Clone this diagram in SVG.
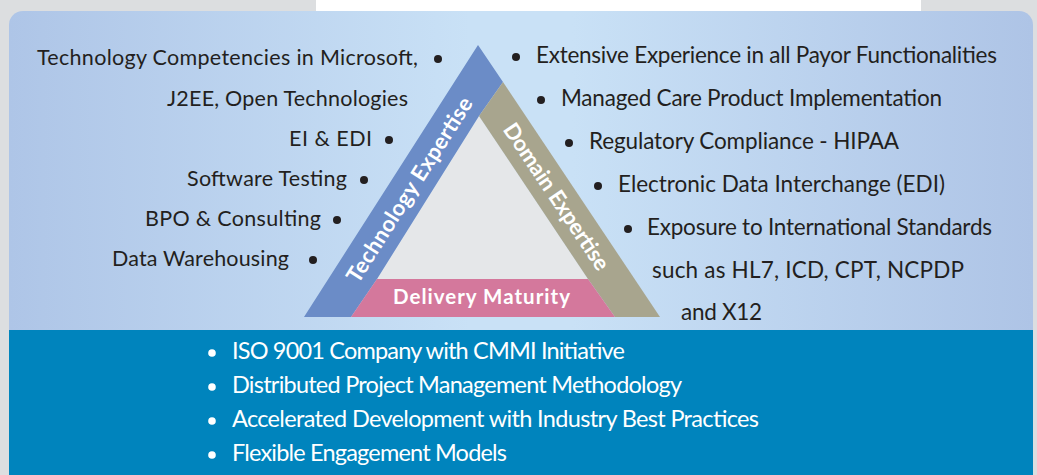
<svg xmlns="http://www.w3.org/2000/svg" width="1037" height="475" viewBox="0 0 1037 475">
<defs>
<linearGradient id="panelGrad" x1="0" y1="0" x2="1" y2="0">
<stop offset="0" stop-color="#aec5e7"/>
<stop offset="0.45" stop-color="#c9e1f6"/>
<stop offset="0.55" stop-color="#c9e1f6"/>
<stop offset="1" stop-color="#aec4e6"/>
</linearGradient>
<style>
.dk{font-family:Lato,"Liberation Sans",sans-serif;fill:#231f20;}
.wt{font-family:Lato,"Liberation Sans",sans-serif;fill:#ffffff;font-size:23.5px;}
.lbl{font-family:Lato,"Liberation Sans",sans-serif;fill:#ffffff;font-weight:bold;}
.bd{fill:#231f20;}
.bw{fill:#ffffff;}
</style>
</defs>
<rect x="0" y="0" width="1037" height="475" fill="#dcdee0"/>
<rect x="316" y="0" width="605" height="14" fill="#ffffff"/>
<g id="panel">
<rect x="9" y="11" width="1024" height="480" rx="14" ry="14" fill="url(#panelGrad)"/>
<rect x="9" y="330" width="1024" height="145" fill="#0084bd"/>
</g>
<g id="triangle">
<polygon points="479,116 588,279 377,279" fill="#e5e7e9"/>
<polygon id="tech-strip" points="478,45 503,82 479,116 377,279 351,317 304,317" fill="#6b8cc7"/>
<polygon id="domain-strip" points="503,82 660,317 615,317 588,279 479,116" fill="#a8a58e"/>
<polygon id="delivery-strip" points="377,279 588,279 615,317 351,317" fill="#d4789c"/>
<text class="lbl" font-size="22" text-anchor="middle" transform="translate(410,190) rotate(-57.5)" x="0" y="7" textLength="215" lengthAdjust="spacing">Technology Expertise</text>
<text class="lbl" font-size="22" text-anchor="middle" transform="translate(556,197) rotate(56.2)" x="0" y="7" textLength="172" lengthAdjust="spacing">Domain Expertise</text>
<text class="lbl" font-size="20.5" x="393" y="304" textLength="177" lengthAdjust="spacing">Delivery Maturity</text>
</g>
<g id="tech-list" font-size="21.5">
<text class="dk" x="37" y="65" textLength="381" lengthAdjust="spacing">Technology Competencies in Microsoft,</text>
<circle class="bd" cx="438" cy="59" r="4"/>
<text class="dk" x="167" y="106" textLength="241" lengthAdjust="spacing">J2EE, Open Technologies</text>
<text class="dk" x="289" y="146" textLength="83" lengthAdjust="spacing">EI &amp; EDI</text>
<circle class="bd" cx="389" cy="140" r="4"/>
<text class="dk" x="187" y="186" textLength="160" lengthAdjust="spacing">Software Testing</text>
<circle class="bd" cx="364" cy="180" r="4"/>
<text class="dk" x="145" y="226" textLength="176" lengthAdjust="spacing">BPO &amp; Consulting</text>
<circle class="bd" cx="337" cy="220" r="4"/>
<text class="dk" x="112" y="266" textLength="177" lengthAdjust="spacing">Data Warehousing</text>
<circle class="bd" cx="313" cy="260" r="4"/>
</g>
<g id="domain-list" font-size="22.5">
<circle class="bd" cx="516" cy="57" r="4"/>
<text class="dk" x="536" y="63" textLength="461" lengthAdjust="spacing">Extensive Experience in all Payor Functionalities</text>
<circle class="bd" cx="541" cy="100" r="4"/>
<text class="dk" x="561" y="106" textLength="381" lengthAdjust="spacing">Managed Care Product Implementation</text>
<circle class="bd" cx="569" cy="143" r="4"/>
<text class="dk" x="589" y="149" textLength="310" lengthAdjust="spacing">Regulatory Compliance - HIPAA</text>
<circle class="bd" cx="598" cy="186" r="4"/>
<text class="dk" x="618" y="192" textLength="327" lengthAdjust="spacing">Electronic Data Interchange (EDI)</text>
<circle class="bd" cx="628" cy="229" r="4"/>
<text class="dk" x="647" y="235" textLength="345" lengthAdjust="spacing">Exposure to International Standards</text>
<text class="dk" x="652" y="278" textLength="312" lengthAdjust="spacing">such as HL7, ICD, CPT, NCPDP</text>
<text class="dk" x="681" y="320" textLength="81" lengthAdjust="spacing">and X12</text>
</g>
<g id="delivery-list">
<circle class="bw" cx="212" cy="353" r="3.8"/>
<text class="wt" x="232" y="359" textLength="393" lengthAdjust="spacing">ISO 9001 Company with CMMI Initiative</text>
<circle class="bw" cx="212" cy="387" r="3.8"/>
<text class="wt" x="232" y="393" textLength="450" lengthAdjust="spacing">Distributed Project Management Methodology</text>
<circle class="bw" cx="212" cy="421" r="3.8"/>
<text class="wt" x="232" y="427" textLength="527" lengthAdjust="spacing">Accelerated Development with Industry Best Practices</text>
<circle class="bw" cx="212" cy="455" r="3.8"/>
<text class="wt" x="232" y="461" textLength="275" lengthAdjust="spacing">Flexible Engagement Models</text>
</g>
<g id="connectors"></g>
</svg>
